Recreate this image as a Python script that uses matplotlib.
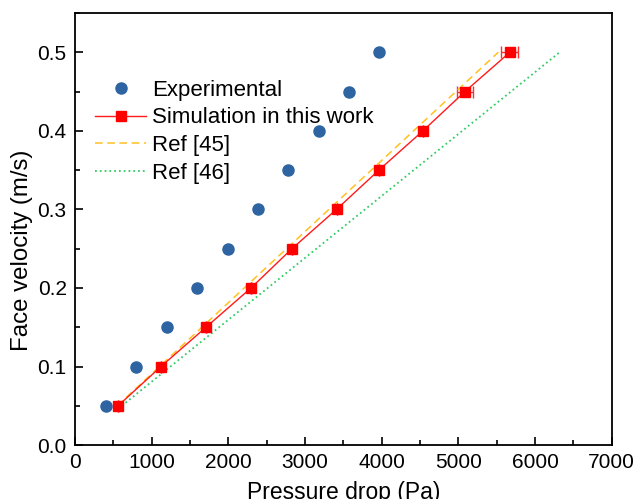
import matplotlib.pyplot as plt
from matplotlib.ticker import MultipleLocator
from matplotlib.lines import Line2D

plt.rcParams['font.family'] = ['Liberation Sans', 'DejaVu Sans']

# face velocity (m/s)
velocity = [0.05, 0.10, 0.15, 0.20, 0.25, 0.30, 0.35, 0.40, 0.45, 0.50]

# pressure drop (Pa)
exp_dp = [400, 795, 1200, 1590, 1995, 2385, 2777, 3180, 3570, 3965]
sim_dp = [561, 1121, 1708, 2295, 2829, 3410, 3963, 4537, 5085, 5671]
sim_err = [0, 0, 0, 0, 0, 0, 0, 0, 105, 110]

ref45_dp = [550, 5520]
ref45_v = [0.05, 0.50]
ref46_dp = [610, 6320]
ref46_v = [0.05, 0.50]

fig = plt.figure(figsize=(6.33, 4.99), dpi=100)
ax = fig.add_axes([0.1185, 0.108, 0.848, 0.866])

h_exp, = ax.plot(exp_dp, velocity, 'o', color='#2e64a2', ms=8)
ax.errorbar(sim_dp, velocity, xerr=sim_err, color='#ff1a1a', lw=1.0,
            marker='s', ms=7, mfc='#ff0000', mec='#ff0000',
            ecolor='#ff3030', elinewidth=1.0, capsize=4)
h45, = ax.plot(ref45_dp, ref45_v, '--', color='#ffc020', lw=1.1, dashes=(5, 3))
h46, = ax.plot(ref46_dp, ref46_v, ':', color='#33cc66', lw=1.3)
h_sim = Line2D([], [], color='#ff1a1a', lw=1.0, marker='s', ms=7,
               mfc='#ff0000', mec='#ff0000')

ax.set_xlim(0, 7000)
ax.set_ylim(0, 0.55)
ax.xaxis.set_major_locator(MultipleLocator(1000))
ax.xaxis.set_minor_locator(MultipleLocator(500))
ax.yaxis.set_major_locator(MultipleLocator(0.1))
ax.yaxis.set_minor_locator(MultipleLocator(0.05))
ax.yaxis.set_major_formatter(plt.FuncFormatter(lambda v, p: f'{v:.1f}'))

ax.tick_params(which='both', direction='in', labelsize=15, width=1.2)
ax.tick_params(which='major', length=6, pad=6)
ax.tick_params(which='minor', length=3.5)
for s in ax.spines.values():
    s.set_linewidth(1.3)

ax.set_xlabel('Pressure drop (Pa)', fontsize=16.5, labelpad=6)
ax.set_ylabel('Face velocity (m/s)', fontsize=17.3)
ax.yaxis.set_label_coords(-0.078, 0.451)

ax.legend([h_exp, h_sim, h45, h46],
          ['Experimental', 'Simulation in this work', 'Ref [45]', 'Ref [46]'],
          loc='upper left', bbox_to_anchor=(0.0, 0.892), frameon=False,
          fontsize=16, handlelength=2.3, handletextpad=0.25,
          labelspacing=0.30)

fig.savefig('out.png', dpi=100)
